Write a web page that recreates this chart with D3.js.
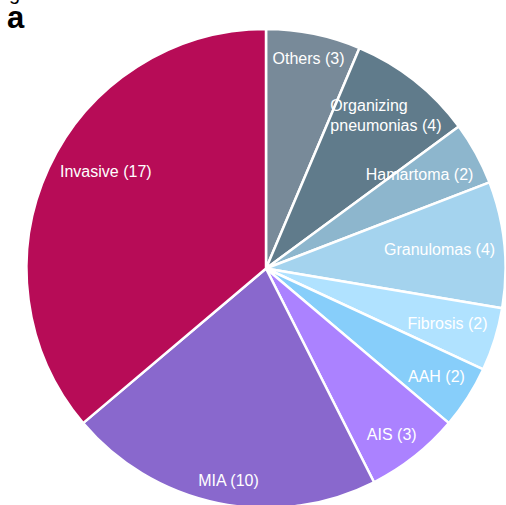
<!DOCTYPE html>
<head>
<meta charset="utf-8">
<style>
  body { margin: 0; background: #fff; }
  svg { display: block; }
</style>
</head>
<body>
<div id="chart"></div>
<script src="https://cdnjs.cloudflare.com/ajax/libs/d3/7.8.5/d3.min.js"></script>
<script>
// slices, clockwise from 12 o'clock
var categories = ["Others", "Organizing\npneumonias", "Hamartoma", "Granulomas",
  "Fibrosis", "AAH", "AIS", "MIA", "Invasive"];
var counts = [3, 4, 2, 4, 2, 2, 3, 10, 17];
var colors = ["#788A99", "#607B8B", "#8DB6CD", "#A4D3EE",
  "#B0E2FF", "#87CEFA", "#AB82FF", "#8968CD", "#B70C57"];

var width = 506, height = 505;
var cx = 266, cy = 268.5, radius = 239.5;
var fontSize = 16;
var labelEdge = radius - 9; // labels sit just inside the rim
// the original layout tool didn't put every label exactly on the mid angle
var labelTurn = {"Invasive": 6, "Hamartoma": -2.5, "AIS": 1.3, "MIA": -1.5};

var svg = d3.select("#chart").append("svg")
  .attr("width", width)
  .attr("height", height);

// panel letter, plus the tail of the line above it
svg.append("text")
  .attr("x", 9).attr("y", -0.5)
  .attr("font-family", "Liberation Sans, Arial, sans-serif")
  .attr("font-size", 20)
  .text("g");

svg.append("text")
  .attr("x", 7).attr("y", 28)
  .attr("font-family", "Liberation Sans, Arial, sans-serif")
  .attr("font-size", 31)
  .attr("font-weight", "bold")
  .text("a");

var slices = categories.map(function(c, i) {
  return {name: c, value: counts[i], color: colors[i]};
});

var pie = d3.pie().sort(null).value(function(d) { return d.value; });
var arc = d3.arc().innerRadius(0).outerRadius(radius);

var g = svg.append("g").attr("transform", "translate(" + cx + "," + cy + ")");

var arcs = pie(slices);

g.selectAll("path.slice")
  .data(arcs).enter().append("path")
  .attr("class", "slice")
  .attr("d", arc)
  .attr("fill", function(d) { return d.data.color; })
  .attr("stroke", "#fff")
  .attr("stroke-width", 2.5)
  .attr("stroke-linejoin", "round");

var lineHeight = fontSize * 1.25;

var labels = g.selectAll("text.label")
  .data(arcs).enter().append("text")
  .attr("class", "label")
  .attr("font-family", "Liberation Sans, Arial, sans-serif")
  .attr("font-size", fontSize)
  .attr("fill", "#fff")
  .attr("text-anchor", "start");

labels.each(function(d) {
  var text = d3.select(this);
  var lines = d.data.name.split("\n");
  lines[lines.length - 1] += " (" + d.data.value + ")";
  var n = lines.length;
  var spans = lines.map(function(line, i) {
    var base = (i - (n - 1) / 2) * lineHeight + 0.275 * fontSize;
    var t = text.append("tspan").attr("y", base).text(line);
    return {t: t, base: base, w: t.node().getComputedTextLength()};
  });
  // lines share a left edge, block centred on the label point
  var maxW = d3.max(spans, function(s) { return s.w; });
  var boxes = spans.map(function(s) {
    s.t.attr("x", -maxW / 2);
    return {x0: -maxW / 2, x1: -maxW / 2 + s.w,
      y0: s.base - 0.75 * fontSize, y1: s.base + 0.2 * fontSize};
  });

  var name = d.data.name.split("\n")[0];
  var mid = (d.startAngle + d.endAngle) / 2 + (labelTurn[name] || 0) * Math.PI / 180;
  var ux = Math.sin(mid), uy = -Math.cos(mid);

  function farthest(r) {
    var px = r * ux, py = r * uy, m = 0;
    boxes.forEach(function(b) {
      [b.x0, b.x1].forEach(function(x) {
        [b.y0, b.y1].forEach(function(y) {
          m = Math.max(m, Math.hypot(px + x, py + y));
        });
      });
    });
    return m;
  }

  var lo = 0, hi = radius;
  for (var k = 0; k < 40; k++) {
    var m = (lo + hi) / 2;
    if (farthest(m) > labelEdge) hi = m; else lo = m;
  }
  text.attr("transform", "translate(" + (lo * ux) + "," + (lo * uy) + ")");
});
</script>
</body>
</html>
